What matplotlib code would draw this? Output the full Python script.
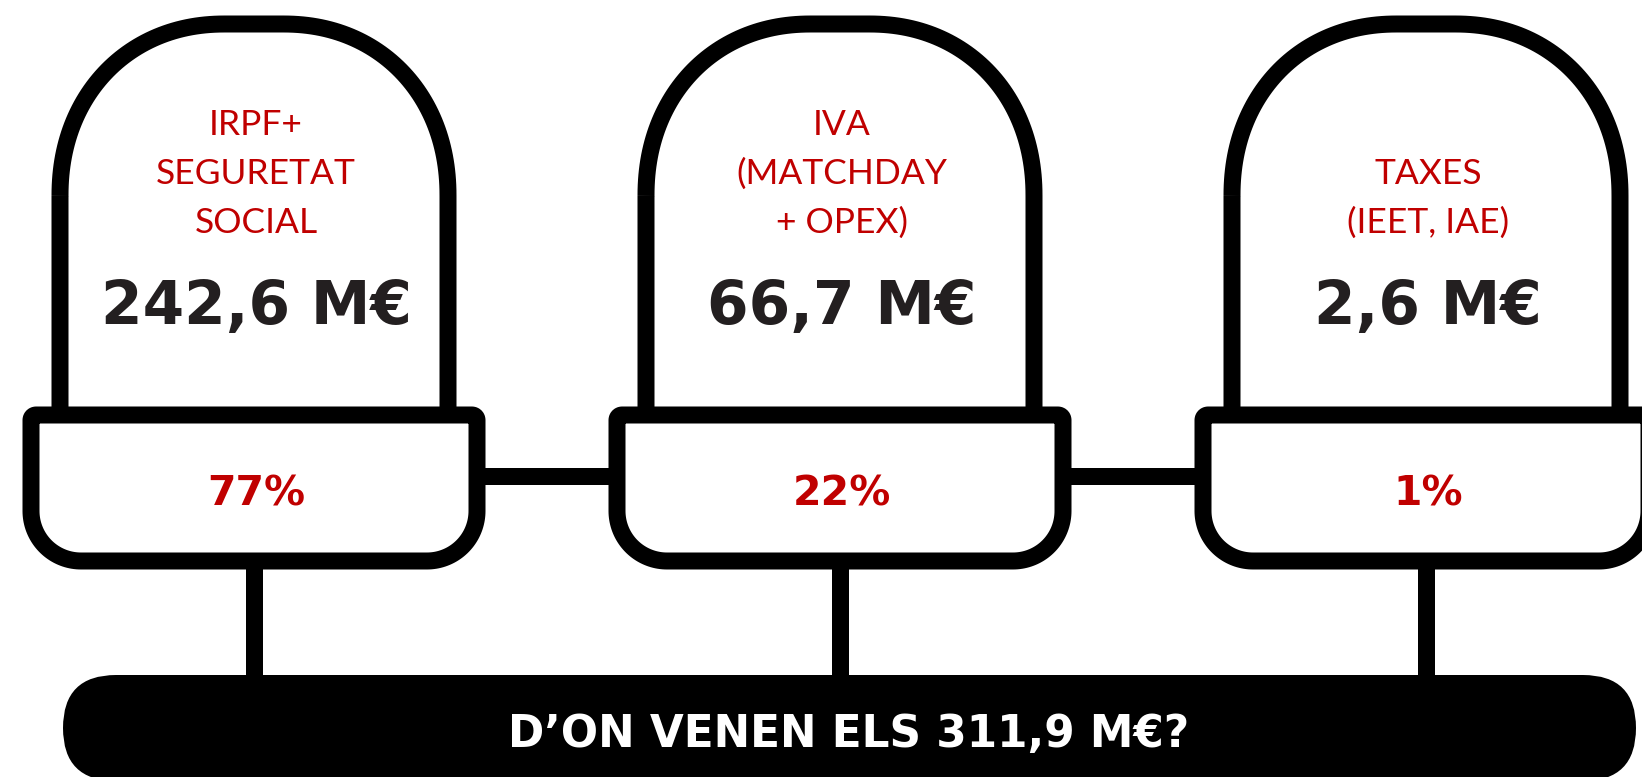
import matplotlib.pyplot as plt
from matplotlib.patches import PathPatch, FancyBboxPatch
from matplotlib.path import Path
import numpy as np

# --- data ---
labels = [["IRPF+", "SEGURETAT", "SOCIAL"],
          ["IVA", "(MATCHDAY", "+ OPEX)"],
          ["TAXES", "(IEET, IAE)"]]
amounts = [242.6, 66.7, 2.6]
shares = [77, 22, 1]
total = 311.9

RED = "#C00000"
DARK = "#231F20"
W, H = 1642, 777
LW = 17 * 0.72  # 17 px stroke in points at dpi 100

plt.rcParams["font.family"] = ["Lato", "DejaVu Sans"]
BOLD = ["DejaVu Sans"]

fig = plt.figure(figsize=(W / 100, H / 100), dpi=100)
ax = fig.add_axes([0, 0, 1, 1])
ax.set_xlim(0, W)
ax.set_ylim(H, 0)
ax.axis("off")


def arc(cx, cy, rx, ry, a0, a1, n=40, p=2.0):
    # superellipse quarter (p=2 is a plain ellipse)
    t = np.radians(np.linspace(a0, a1, n))
    c, s = np.cos(t), np.sin(t)
    x = cx + rx * np.sign(c) * np.abs(c) ** (2 / p)
    y = cy + ry * np.sign(s) * np.abs(s) ** (2 / p)
    return np.column_stack([x, y])


def dome_path(cx, half_w=194, top=24, bottom=415, rx=165, ry=172):
    x0, x1 = cx - half_w, cx + half_w
    pts = [[x0, bottom], [x0, top + ry]]
    pts += arc(x0 + rx, top + ry, rx, ry, 180, 270, 60, 2.12).tolist()
    pts += arc(x1 - rx, top + ry, rx, ry, 270, 360, 60, 2.12).tolist()
    pts += [[x1, bottom]]
    return Path(pts)


def base_path(cx, half_w=223, top=415, bottom=561, rt=5, rb=50):
    x0, x1 = cx - half_w, cx + half_w
    pts = arc(x0 + rt, top + rt, rt, rt, 180, 270, 8).tolist()
    pts += arc(x1 - rt, top + rt, rt, rt, 270, 360, 8).tolist()
    pts += arc(x1 - rb, bottom - rb, rb, rb, 0, 90).tolist()
    pts += arc(x0 + rb, bottom - rb, rb, rb, 90, 180).tolist()
    pts.append(pts[0])
    return Path(pts, closed=True)


centers = [254 + 586 * i for i in range(len(amounts))]

# bottom banner (stadium shape running off the bottom edge)
ax.add_patch(FancyBboxPatch((63, 675), 1636 - 63, 106,
                            boxstyle="round,pad=0,rounding_size=53",
                            fc="black", ec="none", zorder=1))

# connectors between bases
for a, b in zip(centers[:-1], centers[1:]):
    ax.plot([a + 223, b - 223], [476, 476], color="black", lw=LW,
            solid_capstyle="butt", zorder=2)

for i, cx in enumerate(centers):
    # stem down to the banner
    ax.plot([cx, cx], [561, 680], color="black", lw=LW,
            solid_capstyle="butt", zorder=2)
    ax.add_patch(PathPatch(dome_path(cx), fc="white", ec="black", lw=LW,
                           capstyle="butt", zorder=3))
    ax.add_patch(PathPatch(base_path(cx), fc="white", ec="black", lw=LW,
                           joinstyle="round", zorder=4))

    lines = labels[i]
    baselines = [233 - 49 * k for k in range(len(lines))][::-1]
    for txt, yb in zip(lines, baselines):
        ax.text(cx + 2, yb, txt, color=RED, fontsize=25.5, ha="center",
                va="baseline", zorder=5)
    ax.text(cx + 2, 324, f"{amounts[i]:.1f}".replace(".", ",") + " M€",
            color=DARK, fontsize=43, fontweight="bold", family=BOLD,
            ha="center", va="baseline", zorder=5)
    ax.text(cx + 2, 505, f"{shares[i]}%", color=RED, fontsize=29.5,
            fontweight="bold", family=BOLD, ha="center", va="baseline",
            zorder=5)

ax.text(849, 747, f"D\u2019ON VENEN ELS {total:.1f}".replace(".", ",") + " M€?",
        color="white", fontsize=31.5, fontweight="bold", family=BOLD,
        ha="center", va="baseline", zorder=5)

fig.savefig("out.png", dpi=100, facecolor="white")
